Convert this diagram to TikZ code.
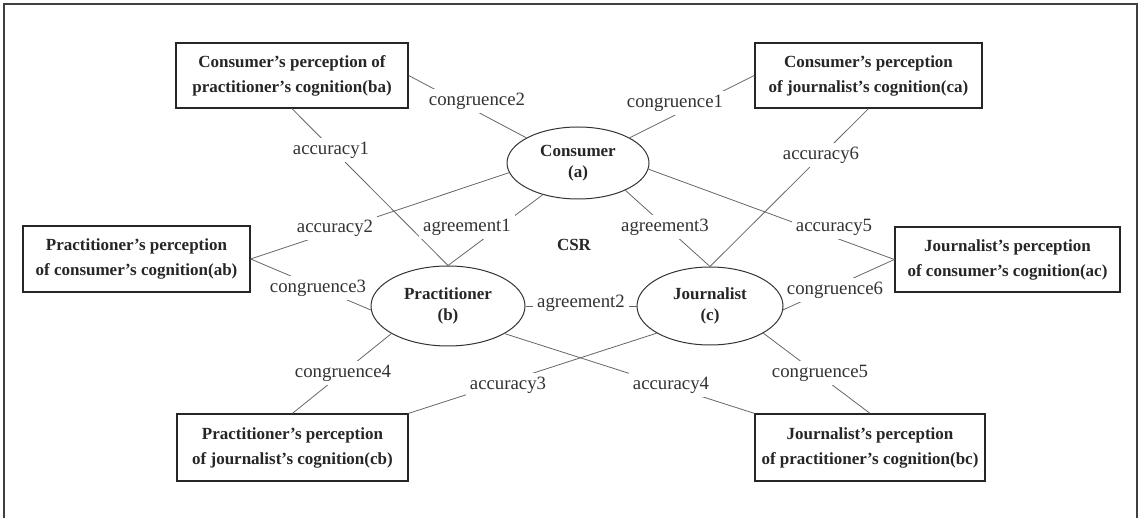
\documentclass[tikz,border=0pt]{standalone}
\usepackage{fontspec}
\setmainfont{Liberation Serif}
\usetikzlibrary{shapes.geometric,calc}
\begin{document}
\begin{tikzpicture}[x=1pt,y=-1pt,
  box/.style={draw=black!85, line width=1.3pt, fill=white, inner sep=0pt, align=center,
    font=\bfseries\fontsize{17}{25}\selectfont, text=black!85},
  actor/.style={ellipse, draw=black!80, line width=1pt, inner sep=0pt, align=center,
    font=\bfseries\fontsize{17}{21}\selectfont, text=black!85},
  lab/.style={fill=white, inner sep=4pt, font=\fontsize{18.8}{22}\selectfont, text=black!80},
  conn/.style={draw=black!60, line width=0.8pt},
  frameline/.style={draw=black!75, line width=1.3pt}]
\useasboundingbox (0,0) rectangle (1141,518);
\draw[frameline] (4,518) -- (4,4) -- (1137,4) -- (1137,518);

% boxes
\node[box, minimum width=232pt, minimum height=65pt] (ba) at (292,75.5) {Consumer’s perception of\\practitioner’s cognition(ba)};
\node[box, minimum width=227pt, minimum height=65pt] (ca) at (868.5,75.5) {Consumer’s perception\\of journalist’s cognition(ca)};
\node[box, minimum width=227pt, minimum height=66pt] (ab) at (136.5,259) {Practitioner’s perception\\of consumer’s cognition(ab)};
\node[box, minimum width=225pt, minimum height=65pt] (ac) at (1007.5,259.5) {Journalist’s perception\\of consumer’s cognition(ac)};
\node[box, minimum width=231pt, minimum height=67pt] (cb) at (292.5,447.5) {Practitioner’s perception\\of journalist’s cognition(cb)};
\node[box, minimum width=230pt, minimum height=67pt] (bc) at (870,447.5) {Journalist’s perception\\of practitioner’s cognition(bc)};

% actors
\node[actor, minimum width=142pt, minimum height=72pt] (cons) at (578,163) {Consumer\\(a)};
\node[actor, minimum width=154pt, minimum height=80pt] (prac) at (448,306) {Practitioner\\(b)};
\node[actor, minimum width=146pt, minimum height=78pt] (jour) at (710,306) {Journalist\\(c)};

\node[font=\bfseries\fontsize{17}{20}\selectfont, text=black!85] (csr) at (574,245) {CSR};

% connectors
\draw[conn] (ba.east) -- (cons.154);
\draw[conn] (cons.26) -- (ca.west);
\draw[conn] (ba.south) -- (prac.north);
\draw[conn] (cons.188) -- (ab.east);
\draw[conn] (cons.222) -- (prac.north);
\draw[conn] (cons.-30) -- (jour.north);
\draw[conn] (ca.south) -- (jour.north);
\draw[conn] (cons.-5) -- (ac.west);
\draw[conn] (ab.east) -- (prac.183);
\draw[conn] (ac.west) -- (jour.357);
\draw[conn] (prac.east) -- (jour.west);
\draw[conn] (prac.206) -- (cb.north);
\draw[conn] (jour.207) -- (cb.north east);
\draw[conn] (prac.334) -- (bc.north west);
\draw[conn] (jour.333) -- (bc.north);

% labels
\node[lab] (c2) at (477,101) {congruence2};
\node[lab] (c1) at (675,103) {congruence1};
\node[lab] (a1) at (331,150) {accuracy1};
\node[lab] (a6) at (821,155) {accuracy6};
\node[lab] (a2) at (335,228) {accuracy2};
\node[lab] (g1) at (467,227) {agreement1};
\node[lab] (g3) at (665,227) {agreement3};
\node[lab] (a5) at (834,227) {accuracy5};
\node[lab] (c3) at (318,288) {congruence3};
\node[lab] (g2) at (581,303) {agreement2};
\node[lab] (c6) at (835,290) {congruence6};
\node[lab] (c4) at (343,373) {congruence4};
\node[lab] (a3) at (508,385) {accuracy3};
\node[lab] (a4) at (671,385) {accuracy4};
\node[lab] (c5) at (820,373) {congruence5};
\end{tikzpicture}
\end{document}
